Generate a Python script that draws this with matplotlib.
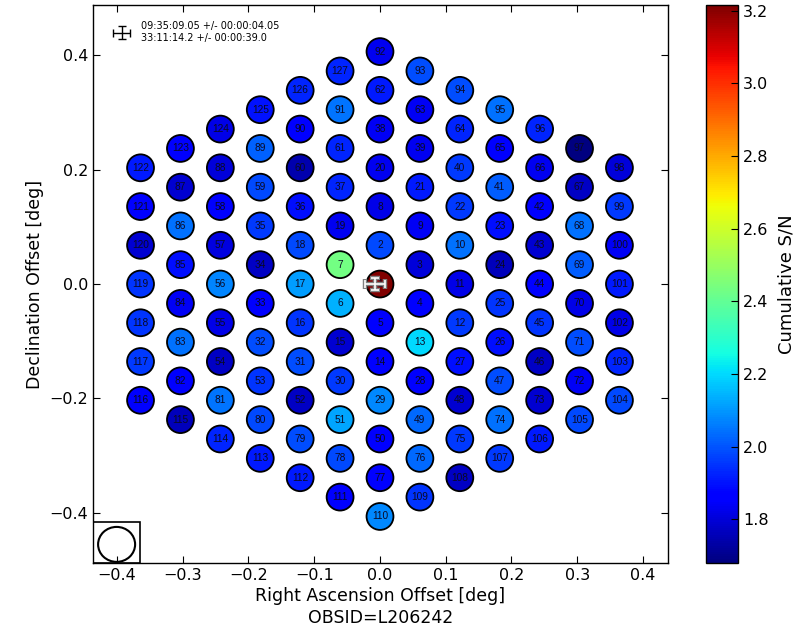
import numpy as np
import matplotlib
matplotlib.use('Agg')
import matplotlib.pyplot as plt
from matplotlib.patches import Ellipse, Rectangle
from matplotlib.legend_handler import HandlerErrorbar

# ---------------- data ----------------
beam_ids = list(range(1, 128))
snr = [3.215, 1.98, 1.80, 1.85, 1.87, 2.14, 2.43, 1.82, 1.84, 2.04,
       1.82, 1.96, 2.20, 1.87, 1.79, 1.95, 2.11, 1.98, 1.83, 1.83,
       1.91, 1.96, 1.89, 1.76, 1.95, 1.89, 1.89, 1.85, 2.08, 1.96,
       1.99, 1.99, 1.85, 1.77, 1.96, 1.89, 1.93, 1.84, 1.83, 1.96,
       2.01, 1.87, 1.79, 1.85, 1.95, 1.77, 1.99, 1.79, 2.03, 1.85,
       2.12, 1.77, 1.95, 1.77, 1.82, 2.07, 1.81, 1.86, 1.98, 1.74,
       1.93, 1.91, 1.84, 1.93, 1.85, 1.83, 1.77, 2.04, 2.01, 1.82,
       1.99, 1.84, 1.79, 2.04, 1.96, 2.03, 1.85, 1.98, 1.99, 1.98,
       2.05, 1.87, 2.04, 1.84, 1.89, 2.04, 1.79, 1.80, 2.02, 1.85,
       2.05, 1.83, 1.99, 1.99, 2.04, 1.93, 1.68, 1.80, 1.96, 1.84,
       1.91, 1.82, 1.93, 1.98, 1.98, 1.91, 1.96, 1.77, 1.95, 2.08,
       1.86, 1.91, 1.91, 1.93, 1.76, 1.85, 1.96, 1.95, 1.95, 1.79,
       1.86, 1.91, 1.87, 1.82, 1.90, 1.93, 1.93]

ra_text = "09:35:09.05 +/- 00:00:04.05"
dec_text = "33:11:14.2 +/- 00:00:39.0"
obsid = "L206242"

fit_ra_offset = [-0.008]
fit_dec_offset = [0.0]
fit_ra_err = [0.015]
fit_dec_err = [0.011]

x_ticks = [-0.4, -0.3, -0.2, -0.1, 0.0, 0.1, 0.2, 0.3, 0.4]
y_ticks = [-0.4, -0.2, 0.0, 0.2, 0.4]
cbar_ticks = [1.8, 2.0, 2.2, 2.4, 2.6, 2.8, 3.0, 3.2]

# ---------------- geometry of hexagonal TAB grid ----------------
DX, DY = 0.0607, 0.0677


def hex_pos(i):
    """Offset of beam with 0-based index i in the ring-numbered hex grid."""
    if i == 0:
        return 0.0, 0.0
    n, start = 1, 1
    while i >= start + 6 * n:
        start += 6 * n
        n += 1
    k = i - start
    corners = [(0, n), (n, n / 2), (n, -n / 2), (0, -n),
               (-n, -n / 2), (-n, n / 2), (0, n)]
    s, t = divmod(k, n)
    c0, c1 = corners[s], corners[s + 1]
    f = t / n
    return ((c0[0] + f * (c1[0] - c0[0])) * DX,
            (c0[1] + f * (c1[1] - c0[1])) * DY)


pos = np.array([hex_pos(b - 1) for b in beam_ids])
xs, ys = pos[:, 0], pos[:, 1]

# ---------------- figure ----------------
fig = plt.figure(figsize=(8.08, 6.34), dpi=100)
ax = fig.add_axes([0.1151, 0.112, 0.7116, 0.880])
cax = fig.add_axes([0.874, 0.112, 0.0396, 0.880])

vmin, vmax = min(snr), max(snr)
sc = ax.scatter(xs, ys, c=snr, cmap='jet', vmin=vmin, vmax=vmax, s=375,
                edgecolors='k', linewidths=1.3, zorder=2)

for b, x, y in zip(beam_ids, xs, ys):
    ax.text(x, y, str(b), ha='center', va='center', fontsize=7.3,
            family=['Liberation Sans Narrow', 'Liberation Sans', 'DejaVu Sans'],
            color='#0a0a25', zorder=3)

# fitted position
ax.errorbar(fit_ra_offset, fit_dec_offset, xerr=fit_ra_err, yerr=fit_dec_err,
            fmt='none', ecolor='grey', elinewidth=3.2, capsize=3.5,
            capthick=3.2, zorder=5)
ax.errorbar(fit_ra_offset, fit_dec_offset, xerr=fit_ra_err, yerr=fit_dec_err,
            fmt='none', ecolor='white', elinewidth=1.2, capsize=3,
            capthick=1.2, zorder=6)

# legend proxy
ax.errorbar([np.nan], [np.nan], xerr=[0.01], yerr=[0.01], fmt='none',
            ecolor='k', elinewidth=1, capsize=3, capthick=1,
            label=ra_text + "\n" + dec_text)
leg = ax.legend(loc='upper left', bbox_to_anchor=(0.028, 0.978),
                frameon=False, fontsize=7, handlelength=1.8,
                handletextpad=1.1, borderaxespad=0.0, borderpad=0.4,
                handler_map={matplotlib.container.ErrorbarContainer:
                             HandlerErrorbar(xerr_size=0.9, yerr_size=0.7)})

xlim = (-0.4365, 0.438)
ylim = (-0.4875, 0.4875)
ax.set_xlim(xlim)
ax.set_ylim(ylim)

# beam size box
ax.add_patch(Rectangle((xlim[0], ylim[0]), 0.0715, 0.0718, fill=False,
                       ec='k', lw=1.2, zorder=4))
ax.add_patch(Ellipse((-0.4006, -0.455), 0.0563, 0.0611, fill=False,
                     ec='k', lw=1.5, zorder=4))

ax.set_xticks(x_ticks)
ax.set_yticks(y_ticks)
ax.tick_params(direction='in', top=True, right=True, length=5, width=0.8,
               labelsize=11.5)
ax.set_xlabel("Right Ascension Offset [deg]\nOBSID=" + obsid, fontsize=12.5,
              labelpad=3, linespacing=1.25)
ax.set_ylabel("Declination Offset [deg]", fontsize=12.5, labelpad=4)
for sp in ax.spines.values():
    sp.set_linewidth(1.0)

cb = fig.colorbar(sc, cax=cax)
cb.set_ticks(cbar_ticks)
cb.ax.tick_params(direction='in', length=5, width=0.8, labelsize=11.5)
cb.set_label("Cumulative S/N", fontsize=13, labelpad=6)
cb.outline.set_linewidth(1.0)

fig.savefig('out.png', dpi=100)
